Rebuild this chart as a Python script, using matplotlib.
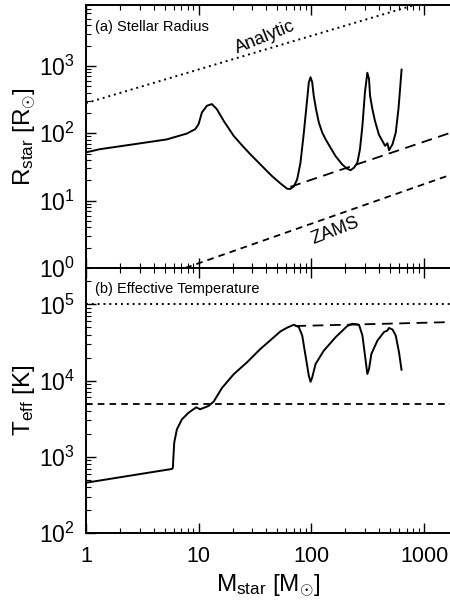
import numpy as np
import matplotlib
matplotlib.use("Agg")
import matplotlib.pyplot as plt
from matplotlib.ticker import LogLocator, FuncFormatter, NullFormatter

plt.rcParams['font.family'] = ['Liberation Sans', 'DejaVu Sans']
plt.rcParams['mathtext.fontset'] = 'custom'
plt.rcParams['mathtext.rm'] = 'Liberation Sans'
plt.rcParams['mathtext.it'] = 'Liberation Sans:italic'
plt.rcParams['mathtext.bf'] = 'Liberation Sans:bold'

# (a) stellar radius vs mass
m_rad = [1.0, 1.33, 2.64, 5.22, 6.4, 7.87, 9.33, 9.98, 10.7, 11.85, 13.1, 14.5, 16.7,
         20.5, 24.5, 28.8, 34.1, 39.1, 44.9, 53.2, 61.0, 65.0, 70.0, 74.8, 80.0, 85.8,
         91.9, 95.0, 98.4, 101.8, 105.0, 110.0, 116.6, 125.0, 134.0, 148.0, 164.0,
         188.0, 208.0, 223.0, 239.0, 256.0, 270.0, 284.0, 299.0, 314.0, 325.0, 332.0,
         348.0, 367.0, 398.0, 427.0, 451.0, 473.0, 489.0, 525.0, 561.0, 593.0, 613.0,
         632.0]
r_rad = [52.0, 58.0, 68.5, 81.0, 89.5, 99.0, 115.0, 136.0, 204.0, 256.0, 271.0, 228.0,
         152.0, 91.0, 65.0, 48.6, 36.5, 29.0, 23.0, 18.0, 15.0, 14.9, 16.3, 20.6, 36.0,
         102.0, 322.0, 571.0, 677.0, 571.0, 360.0, 229.0, 144.0, 102.0, 81.0, 61.0, 45.8,
         34.4, 29.7, 28.3, 30.8, 36.5, 57.7, 129.0, 405.0, 790.0, 640.0, 360.0, 229.0,
         152.0, 95.0, 77.0, 65.0, 71.0, 56.0, 68.5, 102.0, 229.0, 454.0, 880.0]

analytic_m = [1.0, 1700.0]
analytic_r = [280.0, 11500.0]
zams_m = [7.6, 1700.0]
zams_r = [1.0, 24.0]
rfit_m = [65.0, 1700.0]
rfit_r = [16.0, 101.0]

# (b) effective temperature vs mass
m_teff = [1.0, 5.8, 5.9, 6.07, 6.41, 7.1, 8.14, 9.52, 10.3, 12.25, 13.6, 16.1, 20.5,
          26.9, 35.3, 46.4, 53.0, 61.0, 70.0, 77.4, 83.0, 88.8, 95.0, 98.4, 101.8, 109.0,
          129.0, 164.0, 208.0, 231.0, 265.0, 284.0, 297.0, 314.0, 325.0, 341.0, 386.0,
          441.0, 473.0, 489.0, 525.0, 561.0, 600.0, 631.0]
t_teff = [457.0, 693.0, 714.0, 1530.0, 2290.0, 3100.0, 3790.0, 4460.0, 4200.0, 4650.0,
          5300.0, 8000.0, 12150.0, 17400.0, 26000.0, 37000.0, 44000.0, 49500.0, 54000.0,
          50300.0, 39000.0, 21200.0, 11560.0, 9640.0, 11000.0, 16500.0, 24700.0, 37000.0,
          51900.0, 55600.0, 53900.0, 39000.0, 23400.0, 12200.0, 14200.0, 22400.0, 33500.0,
          43300.0, 45400.0, 49000.0, 46800.0, 39000.0, 23400.0, 13900.0]

tfit_m = [72.0, 1700.0]
tfit_t = [52000.0, 58500.0]
t_upper = 1e5
t_lower = 5000.0

xlim = (1, 1700)

fig = plt.figure(figsize=(4.5, 6.04), dpi=100)
ax1 = fig.add_axes([0.191, 0.5563, 0.809, 0.4354])
ax2 = fig.add_axes([0.191, 0.1175, 0.809, 0.4388])

for ax in (ax1, ax2):
    ax.set_xscale('log')
    ax.set_yscale('log')
    ax.set_xlim(*xlim)
    ax.spines['right'].set_visible(False)
    for s in ('left', 'top', 'bottom'):
        ax.spines[s].set_linewidth(1.4)
    ax.tick_params(which='both', direction='in', top=True, right=False)
    ax.tick_params(which='major', length=7, width=1.0)
    ax.tick_params(which='minor', length=3.5, width=0.8)
    ax.tick_params(axis='y', labelsize=16.5, pad=8)
    ax.tick_params(axis='x', labelsize=15.5, pad=9)
    ax.xaxis.set_major_locator(LogLocator(base=10, numticks=10))
    ax.xaxis.set_minor_locator(LogLocator(base=10, subs=np.arange(2, 10), numticks=20))
    ax.xaxis.set_minor_formatter(NullFormatter())
    ax.yaxis.set_minor_locator(LogLocator(base=10, subs=np.arange(2, 10), numticks=20))
    ax.yaxis.set_minor_formatter(NullFormatter())

dot = (0, (1, 2))
short_dash = (0, (3.7, 2.8))
long_dash = (0, (6, 3.6))

# panel (a)
ax1.plot(m_rad, r_rad, color='black', lw=1.4)
ax1.plot(analytic_m, analytic_r, color='black', lw=1.4, linestyle=dot)
ax1.plot(zams_m, zams_r, color='black', lw=1.3, linestyle=short_dash)
ax1.plot(rfit_m, rfit_r, color='black', lw=1.3, linestyle=long_dash)
ax1.set_ylim(1, 8000)
ax1.xaxis.set_major_formatter(NullFormatter())
ax1.set_ylabel(r'R$_{\rm star}$ [R$_{\odot}$]', fontsize=17.5, labelpad=1)
ax1.text(0.025, 0.916, '(a) Stellar Radius', transform=ax1.transAxes, fontsize=10.5,
         ha='left', va='center')
ax1.text(39, 2650, 'Analytic', fontsize=13, rotation=22, ha='center', va='center')
ax1.text(164, 3.6, 'ZAMS', fontsize=13, rotation=21, ha='center', va='center')

# panel (b)
ax2.plot(m_teff, t_teff, color='black', lw=1.4)
ax2.axhline(t_upper, color='black', lw=1.4, linestyle=dot)
ax2.axhline(t_lower, color='black', lw=1.3, linestyle=short_dash)
ax2.plot(tfit_m, tfit_t, color='black', lw=1.3, linestyle=long_dash)
ax2.set_ylim(100, 3e5)
ax2.xaxis.set_major_formatter(FuncFormatter(lambda v, p: '%d' % v))
ax2.set_ylabel(r'T$_{\rm eff}$ [K]', fontsize=17.5, labelpad=1)
ax2.set_xlabel(r'M$_{\rm star}$ [M$_{\odot}$]', fontsize=17.5, labelpad=4)
ax2.text(0.025, 0.921, '(b) Effective Temperature', transform=ax2.transAxes,
         fontsize=10.5, ha='left', va='center')

fig.savefig('out.png', dpi=100)
